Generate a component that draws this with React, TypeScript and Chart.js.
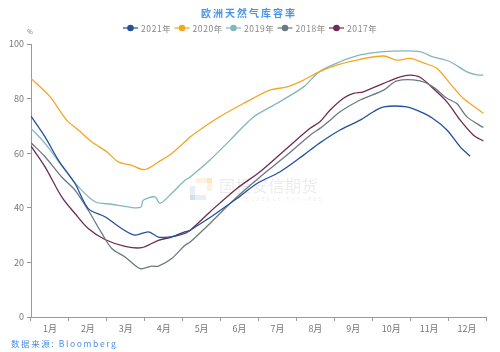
import React, { useEffect, useRef } from "react";
import { Chart, registerables } from "chart.js";

Chart.register(...registerables);

const monthLabels = ["1月", "2月", "3月", "4月", "5月", "6月", "7月", "8月", "9月", "10月", "11月", "12月"];
const yTicks = [0, 20, 40, 60, 80, 100];
const seriesNames = ["2021年", "2020年", "2019年", "2018年", "2017年"];
const seriesColors = ["#22519e", "#f5a623", "#82b6bd", "#6c7a80", "#6e2d50"];

const x2021 = [0, 0.37, 0.72, 1.16, 1.51, 1.95, 2.39, 2.74, 3.1, 3.36, 3.67, 3.8, 4.06, 4.2, 4.81, 5.43, 5.96, 6.57, 7.19, 7.6, 8.15, 8.68, 9.03, 9.3, 9.91, 10.26, 10.6, 10.97, 11.32, 11.58];
const v2021 = [73.6, 66.0, 57.5, 48.9, 39.7, 36.7, 32.4, 30.0, 31.2, 29.3, 29.3, 29.6, 30.6, 31.8, 37.3, 43.4, 48.9, 53.2, 59.3, 63.6, 68.5, 72.1, 75.2, 77.0, 77.0, 75.2, 72.7, 68.5, 62.3, 58.9];

const x2020 = [0, 0.5, 0.94, 1.25, 1.6, 2.0, 2.3, 2.64, 3.0, 3.36, 3.71, 4.06, 4.2, 4.9, 5.6, 6.3, 6.75, 7.19, 7.6, 8.06, 8.68, 9.3, 9.65, 10.0, 10.35, 10.7, 11.05, 11.4, 11.76, 11.93];
const v2020 = [87.4, 80.7, 72.1, 68.5, 64.2, 60.5, 56.8, 55.6, 54.0, 56.8, 59.9, 64.2, 66.0, 72.7, 78.2, 83.1, 84.3, 86.8, 89.8, 92.3, 94.4, 95.6, 94.1, 94.7, 93.1, 91.1, 85.6, 80.1, 76.4, 74.6];

const x2019 = [0, 0.37, 0.9, 1.25, 1.69, 2.13, 2.66, 2.9, 2.96, 3.27, 3.4, 3.71, 4.06, 4.2, 4.72, 5.25, 5.87, 6.48, 7.19, 7.6, 8.15, 8.68, 9.3, 9.83, 10.26, 10.6, 11.05, 11.5, 11.76, 11.93];
const v2019 = [69.1, 63.6, 53.8, 47.7, 42.2, 41.3, 40.1, 40.3, 42.8, 44.0, 41.6, 45.3, 50.1, 51.3, 57.5, 64.8, 73.3, 78.2, 84.3, 89.8, 93.5, 96.0, 97.2, 97.5, 97.2, 95.3, 93.5, 89.8, 88.7, 88.6];

const x2018 = [0, 0.37, 0.81, 1.16, 1.51, 1.87, 2.13, 2.48, 2.88, 3.18, 3.36, 3.71, 4.06, 4.2, 4.81, 5.43, 6.04, 6.75, 7.36, 7.62, 7.89, 8.15, 8.68, 9.3, 9.65, 10.26, 10.6, 10.97, 11.23, 11.5, 11.93];
const v2018 = [63.8, 58.7, 51.3, 46.5, 39.1, 30.6, 25.1, 22.0, 17.7, 18.6, 18.6, 21.4, 26.3, 27.5, 35.5, 44.0, 51.3, 59.3, 66.6, 69.1, 72.1, 75.2, 79.5, 83.1, 86.5, 86.5, 84.3, 80.1, 78.2, 73.3, 69.4];

const x2017 = [0, 0.37, 0.81, 1.16, 1.51, 1.95, 2.48, 2.92, 3.36, 3.71, 4.06, 4.2, 4.72, 5.43, 6.04, 6.75, 7.36, 7.62, 7.89, 8.24, 8.5, 8.77, 9.3, 9.74, 10.0, 10.26, 10.6, 10.97, 11.32, 11.67, 11.93];
const v2017 = [62.6, 55.0, 44.0, 37.9, 32.4, 28.4, 25.9, 25.4, 28.1, 29.3, 31.2, 31.8, 38.5, 47.1, 53.2, 61.8, 69.1, 71.5, 75.8, 80.1, 81.9, 82.5, 85.6, 88.0, 88.6, 87.8, 83.8, 78.8, 72.1, 66.6, 64.5];

const seriesX = [x2021, x2020, x2019, x2018, x2017];
const seriesV = [v2021, v2020, v2019, v2018, v2017];

const FONT = "'Noto Sans CJK SC', 'Noto Sans', sans-serif";

const decorPlugin = {
  id: "decor",
  beforeDatasetsDraw(chart: any) {
    const ctx = chart.ctx;
    ctx.save();
    // watermark
    ctx.globalAlpha = 0.16;
    ctx.fillStyle = "#f2a93b";
    ctx.fillRect(196, 178, 16, 5);
    ctx.fillRect(207, 178, 5, 13);
    ctx.fillStyle = "#6d8fc7";
    ctx.fillRect(190, 186, 5, 14);
    ctx.fillRect(190, 195, 16, 5);
    ctx.globalAlpha = 0.13;
    ctx.fillStyle = "#707070";
    ctx.font = "16px " + FONT;
    ctx.textBaseline = "middle";
    ctx.textAlign = "left";
    (ctx as any).letterSpacing = "0.5px";
    ctx.fillText("国投安信期货", 219, 186);
    ctx.font = "5px " + FONT;
    (ctx as any).letterSpacing = "2.2px";
    ctx.fillText("ESSENCE FUTURES", 246, 199);
    ctx.restore();
  },
  afterDraw(chart: any) {
    const ctx = chart.ctx;
    const area = chart.chartArea;
    ctx.save();
    // title
    ctx.fillStyle = "#4a93ea";
    ctx.font = "bold 10px " + FONT;
    (ctx as any).letterSpacing = "2px";
    ctx.textAlign = "center";
    ctx.textBaseline = "middle";
    ctx.fillText("欧洲天然气库容率", 249, 13);
    // legend
    (ctx as any).letterSpacing = "0.6px";
    ctx.font = "8.5px " + FONT;
    const startX = 123;
    const step = 51.5;
    const ly = 28;
    for (let i = 0; i < seriesNames.length; i++) {
      const x0 = startX + i * step;
      ctx.strokeStyle = seriesColors[i];
      ctx.lineWidth = 1.2;
      ctx.beginPath();
      ctx.moveTo(x0, ly);
      ctx.lineTo(x0 + 15, ly);
      ctx.stroke();
      ctx.fillStyle = seriesColors[i];
      ctx.beginPath();
      ctx.arc(x0 + 7.5, ly, 3.3, 0, Math.PI * 2);
      ctx.fill();
      ctx.fillStyle = "#888";
      ctx.textAlign = "left";
      ctx.fillText(seriesNames[i], x0 + 18, ly + 0.5);
    }
    // % unit
    (ctx as any).letterSpacing = "0px";
    ctx.fillStyle = "#777";
    ctx.font = "6px " + FONT;
    ctx.textAlign = "center";
    ctx.fillText("%", area.left - 1, 32);
    // source
    ctx.fillStyle = "#4a90e2";
    ctx.font = "8.5px " + FONT;
    (ctx as any).letterSpacing = "1.6px";
    ctx.textAlign = "left";
    ctx.fillText("数据来源: Bloomberg", 11, 344);
    ctx.restore();
  },
};

export default function App() {
  const ref = useRef<HTMLCanvasElement>(null);
  useEffect(() => {
    document.body.style.margin = "0";
    if (!ref.current) return;
    const datasets = seriesNames.map((name, i) => ({
      label: name,
      data: seriesX[i].map((x, j) => ({ x, y: seriesV[i][j] })),
      borderColor: seriesColors[i],
      backgroundColor: seriesColors[i],
      borderWidth: 1.3,
      pointRadius: 0,
      tension: 0.3,
      xAxisID: "x",
      yAxisID: "y",
    }));
    const chart = new Chart(ref.current, {
      type: "line",
      data: { datasets },
      plugins: [decorPlugin],
      options: {
        animation: false,
        responsive: false,
        maintainAspectRatio: false,
        layout: { padding: { left: 0, right: 14, top: 44, bottom: 15 } },
        plugins: {
          legend: { display: false },
          title: { display: false },
          tooltip: { enabled: false },
        },
        scales: {
          x: {
            type: "linear",
            display: false,
            min: 0,
            max: 12,
          },
          xm: {
            type: "category",
            labels: monthLabels,
            position: "bottom",
            offset: true,
            grid: { display: true, drawOnChartArea: false, drawTicks: true, tickLength: 4, color: "#999", offset: true },
            border: { color: "#999", width: 1 },
            ticks: { color: "#777", font: { size: 9, family: FONT }, padding: 2, maxRotation: 0, autoSkip: false },
            afterFit: (scale: any) => {
              scale.height = 20;
            },
          },
          y: {
            type: "linear",
            min: 0,
            max: 100,
            afterBuildTicks: (scale: any) => {
              scale.ticks = yTicks.map((v) => ({ value: v }));
            },
            grid: { display: true, drawOnChartArea: false, drawTicks: true, tickLength: 4, color: "#999" },
            border: { color: "#999", width: 1 },
            ticks: { color: "#777", font: { size: 9, family: FONT }, padding: 3 },
            afterFit: (scale: any) => {
              scale.width = 31;
            },
          },
        },
      } as any,
    });
    return () => chart.destroy();
  }, []);
  return (
    <div style={{ width: 500, height: 352, background: "#fff" }}>
      <canvas ref={ref} width={500} height={352} style={{ display: "block", width: 500, height: 352 }} />
    </div>
  );
}
